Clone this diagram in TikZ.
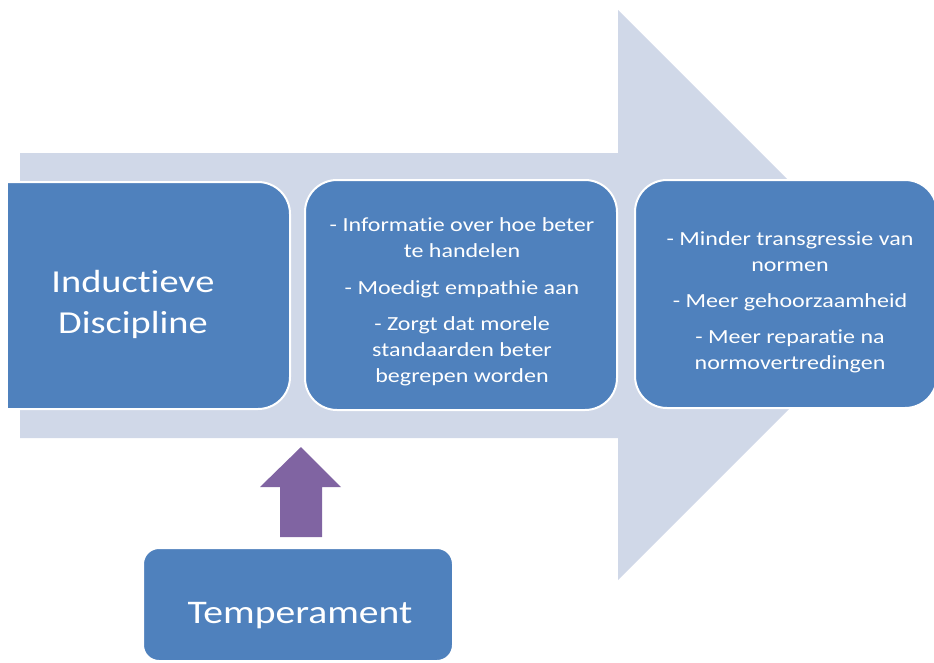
\documentclass[tikz,border=0pt]{standalone}
\usepackage{fontspec}
\setmainfont{Carlito}[FakeStretch=1.2, Ligatures=NoCommon]
\definecolor{boxblue}{HTML}{4F81BD}
\definecolor{flowgrey}{HTML}{D0D8E8}
\definecolor{pushpurple}{HTML}{8064A2}
\begin{document}
\begin{tikzpicture}[x=1pt,y=-1pt,
  stagebox/.style={rectangle, rounded corners=32pt, fill=boxblue, draw=white,
    line width=2pt, inner sep=0pt},
  stagetext/.style={text=white, align=center, inner sep=0pt, anchor=base},
  smalltext/.style={stagetext, font=\fontsize{20}{26}\selectfont},
]
\useasboundingbox (0,0) rectangle (934,662);

% broad background arrow
\fill[flowgrey] (20,153) -- (618,153) -- (618,10) -- (903,295) -- (618,580)
  -- (618,438) -- (20,438) -- cycle;

% three stages
\begin{scope}
  \clip (8,0) rectangle (934,662);
  \node[stagebox, minimum width=314pt, minimum height=227pt] (induct) at (133,295.5) {};
\end{scope}
\node[stagebox, minimum width=312pt, minimum height=230pt] (effects) at (461,295) {};
\node[stagebox, minimum width=302pt, minimum height=228pt] (outcomes) at (786,294) {};

% labels, placed by the baseline of their last line
\node[stagetext, font=\fontsize{32}{41}\selectfont] (induct-label) at (133,333)
  {Inductieve\\Discipline};
\node[smalltext] (effects-label) at (462,382)
  {- Informatie over hoe beter\\te handelen\\[11pt]- Moedigt empathie aan\\[10pt]- Zorgt dat morele\\standaarden beter\\begrepen worden};
\node[smalltext] (outcomes-label) at (790,369)
  {- Minder transgressie van\\normen\\[10pt]- Meer gehoorzaamheid\\[10pt]- Meer reparatie na\\normovertredingen};

% moderating factor
\node[stagebox, rounded corners=16pt, minimum width=310pt, minimum height=113pt] (temper) at (298,604.5) {};
\node[stagetext, font=\fontsize{33}{40}\selectfont] (temper-label) at (300,623) {Temperament};

% upward push arrow
\coordinate (push-tip) at (301,447);
\fill[pushpurple] (280,537) -- (280,487) -- (260,487) -- (push-tip) -- (341,487)
  -- (322,487) -- (322,537) -- cycle;
\end{tikzpicture}
\end{document}
